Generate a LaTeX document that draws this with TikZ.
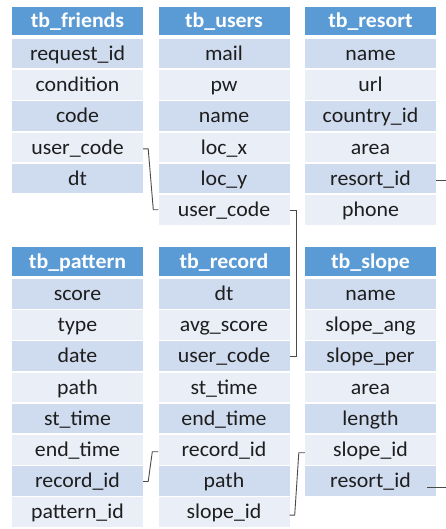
\documentclass[tikz,border=0pt]{standalone}
\usepackage{fontspec}
\setmainfont[FakeStretch=1.04]{Carlito}
\usetikzlibrary{calc}
\definecolor{hdrblue}{HTML}{5B9BD5}
\definecolor{banddark}{HTML}{CFDBEE}
\definecolor{bandlight}{HTML}{E9EEF7}
\definecolor{linkgray}{HTML}{4A4A4A}
\definecolor{celltext}{HTML}{1E1E1E}

% One database table: prefix, left x, top y, title, list of fields
\newcommand\dbtable[5]{%
  \node[hdr] (#1-0) at (#2+65.5,#3+14.25) {#4};
  \foreach \f [count=\i] in {#5} {
    \pgfmathsetmacro\rowy{#3+32+(\i-1)*31.2+14.75}
    \ifodd\i \def\bandcol{banddark}\else\def\bandcol{bandlight}\fi
    \node[cell,fill=\bandcol] (#1-\i) at (#2+65.5,\rowy) {\f};
  }%
}

\begin{document}
\begin{tikzpicture}[x=1pt,y=-1pt,
  cell/.style={rectangle, inner sep=0pt, minimum width=131pt, minimum height=29.5pt,
    text height=16pt, text depth=2.5pt, text=celltext,
    font=\fontsize{21}{24}\selectfont},
  hdr/.style={cell, minimum height=28.5pt, fill=hdrblue, text=white,
    font=\fontsize{21}{24}\selectfont\bfseries},
  link/.style={draw=linkgray, line width=0.9pt}]
\clip (0,0) rectangle (446,529);

\dbtable{fr}{12}{7}{tb\_friends}{request\_id,condition,code,user\_code,dt}
\dbtable{us}{158.5}{7}{tb\_users}{mail,pw,name,loc\_x,loc\_y,user\_code}
\dbtable{rs}{305}{7}{tb\_resort}{name,url,country\_id,area,resort\_id,phone}
\dbtable{pt}{12}{247}{tb\_pattern}{score,type,date,path,st\_time,end\_time,record\_id,pattern\_id}
\dbtable{rc}{158.5}{247}{tb\_record}{dt,avg\_score,user\_code,st\_time,end\_time,record\_id,path,slope\_id}
\dbtable{sl}{305}{247}{tb\_slope}{name,slope\_ang,slope\_per,area,length,slope\_id,resort\_id}

% relations
\draw[link] ([yshift=-1.5pt]fr-4.east) -- ++(5,0) -- ([xshift=-5pt]us-6.west) -- (us-6.west);
\draw[link] ([yshift=-1pt]us-6.east) -- ++(7,0) |- (rc-3.east);
\draw[link] ([yshift=-1.5pt]rs-5.east) -- ++(16,0) |- ([xshift=-9pt,yshift=-6pt]sl-7.east);
\draw[link] ([yshift=-0.5pt]pt-7.east) -- ++(5,0) -- ([xshift=-6pt,yshift=-2pt]rc-6.west) -- ([yshift=-2pt]rc-6.west);
\draw[link] ([yshift=-3pt]rc-8.east) -- ++(5,0) -- ([xshift=-6pt,yshift=-3pt]sl-6.west) -- ([yshift=-3pt]sl-6.west);
\end{tikzpicture}
\end{document}
